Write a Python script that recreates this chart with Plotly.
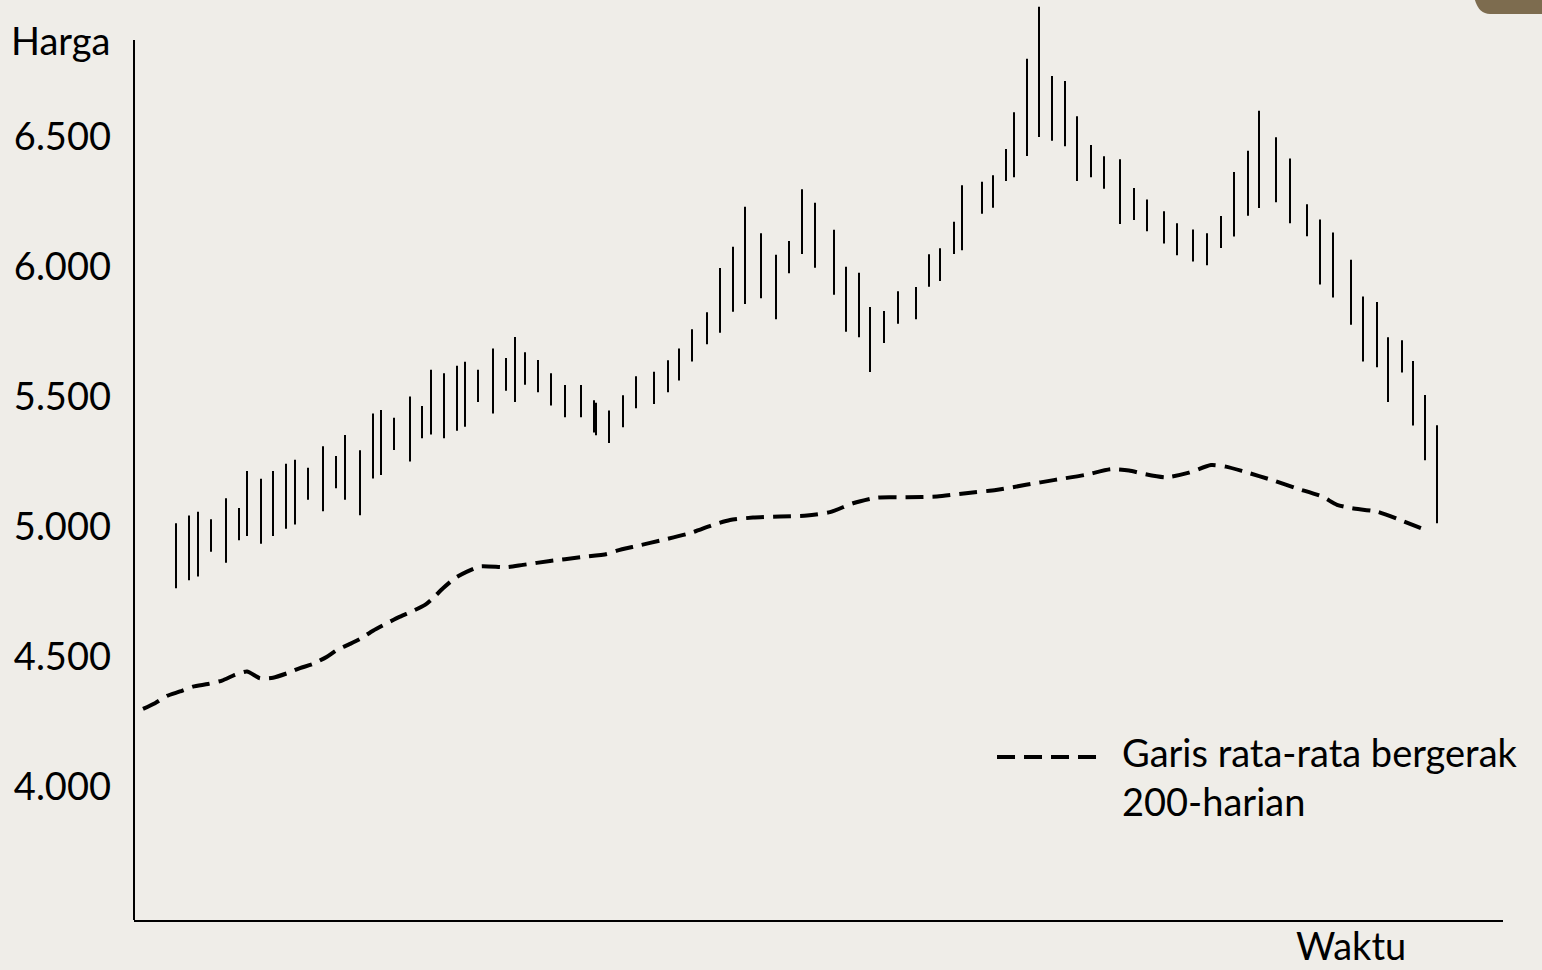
import plotly.graph_objects as go

# ---- data (time in arbitrary day units, price in Rupiah) ----
bar_time = [42, 55, 64, 77, 92, 105, 113, 127, 139, 152,
            161, 174, 189, 202, 211, 226, 239, 247, 260, 276,
            288, 297, 310, 323, 331, 344, 359, 372, 381, 391,
            404, 417, 431, 447, 460, 462, 475, 489, 502, 520,
            534, 545, 558, 573, 586, 599, 611, 627, 642, 655,
            668, 681, 700, 712, 725, 736, 750, 764, 782, 795,
            806, 820, 828, 848, 859, 872, 880, 893, 905, 918,
            931, 943, 957, 970, 986, 1000, 1013, 1030, 1043, 1059,
            1073, 1087, 1100, 1114, 1125, 1142, 1156, 1173, 1186, 1199,
            1217, 1229, 1243, 1254, 1268, 1279, 1291, 1303]
bar_high = [5014, 5044, 5058, 5030, 5110, 5073, 5215, 5185, 5215, 5243,
            5258, 5228, 5310, 5273, 5354, 5295, 5436, 5450, 5420, 5502,
            5465, 5605, 5591, 5620, 5635, 5605, 5686, 5650, 5731, 5672,
            5642, 5591, 5546, 5546, 5487, 5478, 5448, 5507, 5580, 5597,
            5641, 5686, 5760, 5826, 5996, 6078, 6232, 6130, 6047, 6100,
            6299, 6247, 6143, 6001, 5978, 5846, 5831, 5907, 5923, 6049,
            6072, 6174, 6314, 6328, 6353, 6454, 6595, 6801, 7001, 6735,
            6715, 6580, 6469, 6426, 6414, 6304, 6260, 6214, 6168, 6144,
            6130, 6196, 6365, 6447, 6601, 6499, 6417, 6241, 6183, 6133,
            6028, 5886, 5865, 5730, 5718, 5638, 5508, 5391]
bar_low = [4764, 4795, 4809, 4905, 4862, 4949, 4965, 4935, 4965, 4993,
           5009, 5105, 5060, 5149, 5105, 5045, 5186, 5200, 5296, 5252,
           5341, 5356, 5341, 5370, 5385, 5481, 5436, 5524, 5481, 5547,
           5518, 5467, 5422, 5422, 5363, 5353, 5323, 5383, 5457, 5473,
           5518, 5563, 5636, 5703, 5747, 5828, 5858, 5880, 5799, 5976,
           6050, 5997, 5893, 5751, 5730, 5596, 5708, 5782, 5799, 5924,
           5946, 6050, 6064, 6205, 6228, 6331, 6345, 6427, 6500, 6486,
           6464, 6331, 6345, 6301, 6165, 6181, 6137, 6090, 6045, 6021,
           6007, 6073, 6117, 6197, 6227, 6249, 6168, 6118, 5933, 5883,
           5778, 5636, 5614, 5481, 5594, 5390, 5257, 5014]

ma_time = [9, 21, 33, 46, 59, 74, 88, 101, 113, 126, 139, 153, 166, 179, 193,
           203, 216, 226, 239, 253, 266, 279, 291, 299, 309, 321, 333, 346, 373,
           389, 416, 446, 473, 483, 503, 529, 556, 579, 596, 619, 646, 673, 696,
           719, 743, 773, 803, 832, 862, 892, 921, 951, 977, 995, 1010, 1032,
           1055, 1077, 1092, 1110, 1140, 1162, 1188, 1203, 1218, 1243, 1266, 1292]
ma_value = [4300, 4322, 4350, 4367, 4386, 4396, 4409, 4431, 4444, 4418, 4420,
            4437, 4457, 4473, 4501, 4527, 4550, 4569, 4601, 4630, 4655, 4677,
            4700, 4726, 4764, 4803, 4828, 4848, 4845, 4854, 4869, 4883, 4896,
            4909, 4927, 4950, 4976, 5008, 5027, 5036, 5040, 5044, 5057, 5091,
            5113, 5114, 5117, 5130, 5142, 5162, 5181, 5200, 5222, 5217, 5204,
            5191, 5209, 5238, 5232, 5213, 5178, 5149, 5117, 5085, 5072, 5059,
            5027, 4988]

tick_vals = [4000, 4500, 5000, 5500, 6000, 6500]
tick_text = ["4.000", "4.500", "5.000", "5.500", "6.000", "6.500"]
y_label = "Harga"
x_label = "Waktu"
legend_text = "Garis rata-rata bergerak<br>200-harian"

Y_MIN, Y_MAX, Y_AXIS_TOP = 3488, 7027, 6873
X_MIN, X_MAX = 0, 1369

# build high-low bars as one line trace with gaps
bx, by = [], []
for t, h, l in zip(bar_time, bar_high, bar_low):
    bx += [t, t, None]
    by += [l, h, None]

FONT = "Lato, 'Open Sans', sans-serif"
FS = 38
BG = "#efede8"

fig = go.Figure()
fig.add_trace(go.Scatter(x=bx, y=by, mode="lines",
                         line=dict(color="black", width=2),
                         hoverinfo="skip", showlegend=False))
fig.add_trace(go.Scatter(x=ma_time, y=ma_value, mode="lines",
                         line=dict(color="black", width=4, dash="18px,9px",
                                   shape="spline", smoothing=0.6),
                         showlegend=False))

fig.update_layout(
    width=1542, height=970,
    margin=dict(l=134, r=39, t=0, b=50),
    paper_bgcolor=BG, plot_bgcolor=BG,
    font=dict(family=FONT, size=FS, color="black"),
    showlegend=False,
    xaxis=dict(range=[X_MIN, X_MAX], showgrid=False, zeroline=False,
               showticklabels=False, ticks="", showline=True,
               linecolor="black", linewidth=2, fixedrange=True),
    yaxis=dict(range=[Y_MIN, Y_MAX], showgrid=False, zeroline=False,
               tickvals=tick_vals, ticktext=tick_text, ticks="",
               ticklabelstandoff=22, showline=False,
               tickfont=dict(family=FONT, size=FS, color="black"),
               fixedrange=True),
)

# y-axis line (stops below the top of the plot)
fig.add_shape(type="line", xref="paper", yref="y", x0=0, x1=0,
              y0=Y_MIN, y1=Y_AXIS_TOP, line=dict(color="black", width=2))

# legend sample (dashed) and text
fig.add_shape(type="line", xref="paper", yref="paper",
              x0=0.6304, x1=0.7034, y0=0.1772, y1=0.1772,
              line=dict(color="black", width=4, dash="18px,9px"))
fig.add_annotation(xref="paper", yref="paper", x=0.7202, y=0.1565,
                   xanchor="left", yanchor="middle", align="left",
                   text=legend_text, showarrow=False,
                   font=dict(family=FONT, size=FS, color="black"))

fig.add_annotation(xref="paper", yref="y", x=0, y=Y_AXIS_TOP, xshift=-22,
                   xanchor="right", yanchor="middle", text=y_label,
                   showarrow=False, font=dict(family=FONT, size=FS, color="black"))
fig.add_annotation(xref="paper", yref="paper", x=0.889, y=0, yshift=-25,
                   xanchor="center", yanchor="middle", text=x_label,
                   borderpad=0,
                   showarrow=False, font=dict(family=FONT, size=FS, color="black"))

# decorative slide corner (top right)
fig.add_shape(type="path", xref="paper", yref="paper", layer="above",
              path="M 0.9795,1.0 Q 0.9825,0.9848 0.9905,0.9848 L 1.03,0.9848 L 1.03,1.0 Z",
              fillcolor="#7d6c4f", line=dict(width=0))

fig.write_html("out.html",
               config={"displayModeBar": False},
               post_script="document.body.style.margin='0';document.body.style.overflow='hidden';")
